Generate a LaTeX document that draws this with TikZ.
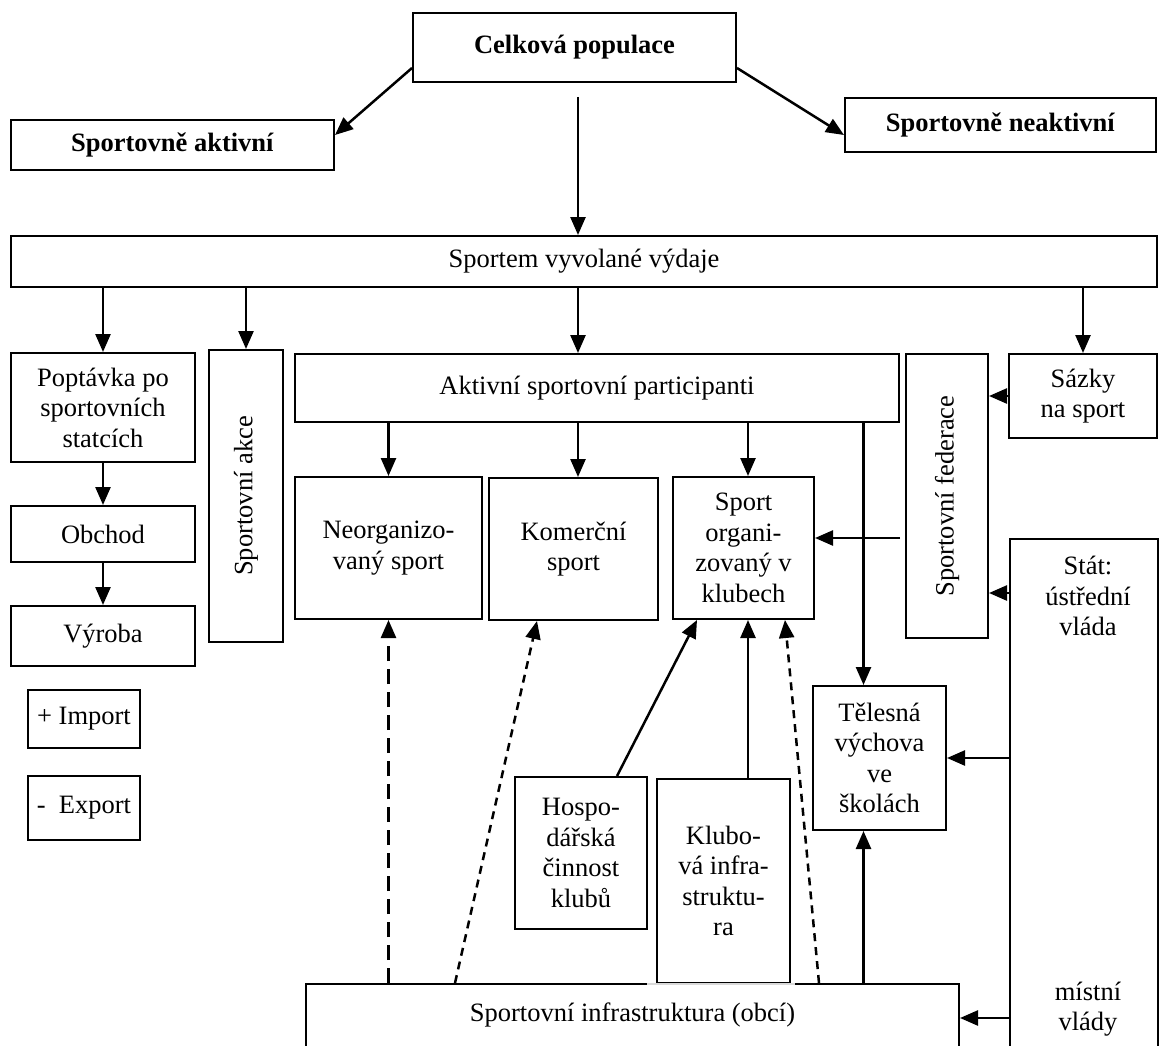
\documentclass[tikz,border=0pt]{standalone}
\usepackage{fontspec}
\setmainfont{Liberation Serif}
\usepackage{tikz}
\usetikzlibrary{arrows.meta}

\begin{document}
\begin{tikzpicture}[x=1pt,y=-1pt,
        every node/.style={font=\fontsize{26.5}{30.5}\selectfont, align=center},
        box/.style={draw, line width=2pt, inner sep=0pt, fill=white},
        arr/.style={line width=2.5pt, -{Triangle[length=18pt,width=15pt]}},
        longdash/.style={arr, dash pattern=on 15pt off 8pt},
        shortdash/.style={arr, dash pattern=on 8pt off 6pt}]
                \useasboundingbox (0,0) rectangle (1160,1046);
                \clip (0,0) rectangle (1160,1046);
                % top
                \node[box, minimum width=323pt, minimum height=69pt] (pop) at (574.5,47.5) {\textbf{Celková populace}};
                \node[box, minimum width=323pt, minimum height=50pt] (akt) at (172.5,145) {\textbf{Sportovně aktivní}};
                \node[box, minimum width=311pt, minimum height=54pt] (neakt) at (1000.5,125) {\textbf{Sportovně neaktivní}};
                \node[box, minimum width=1146pt, minimum height=51pt] (vydaje) at (584,261.5) {Sportem vyvolané výdaje};
                % left column
                \node[box, minimum width=184pt, minimum height=109pt] (poptavka) at (103,407.5) {Poptávka po\\sportovních\\statcích};
                \node[box, minimum width=184pt, minimum height=56pt] (obchod) at (103,534) {Obchod};
                \node[box, minimum width=184pt, minimum height=60pt] (vyroba) at (103,636) {Výroba};
                \node[box, minimum width=112pt, minimum height=58pt] (import) at (84,719) {+ Import};
                \node[box, minimum width=112pt, minimum height=64pt] (export) at (84,808) {-\ \ Export};
                \node[box, minimum width=74pt, minimum height=292pt] (akce) at (246,496) {\rotatebox{90}{Sportovní akce}};
                % participants
                \node[box, minimum width=604pt, minimum height=68pt] (ucast) at (597,388) {Aktivní sportovní participanti};
                \node[box, minimum width=187pt, minimum height=142pt] (neorg) at (388.5,548) {Neorganizo-\\vaný sport};
                \node[box, minimum width=169pt, minimum height=142pt] (komerc) at (573.5,549) {Komerční\\sport};
                \node[box, minimum width=141pt, minimum height=142pt] (klubsport) at (743.5,548) {Sport\\organi-\\zovaný v\\klubech};
                % right side
                \node[box, minimum width=82pt, minimum height=284pt] (federace) at (947,496) {\rotatebox{90}{Sportovní federace}};
                \node[box, minimum width=148pt, minimum height=84pt] (sazky) at (1083,396) {Sázky\\na sport};
                \node[box, minimum width=148pt, minimum height=540pt, anchor=north west] (stat) at (1009,538) {};
                \node (statlbl) at (1088,596) {Stát:\\ústřední\\vláda};
                \node (mistni) at (1088,1009) {místní\\vlády};
                \node[box, minimum width=133pt, minimum height=144pt] (telesna) at (879.5,758) {Tělesná\\výchova\\ve\\školách};
                % bottom
                \node[box, minimum width=653pt, anchor=north west, text height=18pt, text depth=40pt, inner ysep=19pt] (infra) at (305,983) {Sportovní infrastruktura (obcí)};
                \node[box, minimum width=132pt, minimum height=152pt] (hosp) at (581,853) {Hospo-\\dářská\\činnost\\klubů};
                \node[box, line width=1.6pt, minimum width=133pt, minimum height=204pt] (klubinfra) at (723.5,881) {Klubo-\\vá infra-\\struktu-\\ra};
                \draw[gray!30, line width=2pt] ([xshift=-9pt]klubinfra.south west) -- ([xshift=4pt]klubinfra.south east);

                \coordinate (midx) at (578,0);
                \coordinate (kx) at (748,0);
                \coordinate (tx) at (863.5,0);
                \coordinate (popb) at (578,97);
                \coordinate (fedout) at (900,538);
                \coordinate (statfed) at (1009,593);
                \coordinate (statinfra) at (1009,1018);
                \coordinate (kombot) at (455,983);
                \coordinate (klubbot) at (819,983);

                \draw[arr] ([yshift=-20.5pt]pop.west) -- ([yshift=10pt]akt.east);
                \draw[arr] ([yshift=-20.5pt]pop.east) -- ([yshift=-10pt]neakt.west);
                \draw[arr] (popb) -- (vydaje.north -| midx);
                \draw[arr] (vydaje.south -| poptavka.north) -- (poptavka.north);
                \draw[arr] (vydaje.south -| akce.north) -- (akce.north);
                \draw[arr] (vydaje.south -| midx) -- (ucast.north -| midx);
                \draw[arr] (vydaje.south -| sazky.north) -- (sazky.north);
                \draw[arr] (poptavka.south) -- (obchod.north);
                \draw[arr] (obchod.south) -- (vyroba.north);
                \draw[arr] (ucast.south -| neorg.north) -- (neorg.north);
                \draw[arr] (ucast.south -| midx) -- (komerc.north -| midx);
                \draw[arr] (ucast.south -| kx) -- (klubsport.north -| kx);
                \draw[arr] (ucast.south -| tx) -- (telesna.north -| tx);
                \draw[arr] (sazky.west) -- (sazky.west -| federace.east);
                \draw[arr] (fedout) -- (fedout -| klubsport.east);
                \draw[arr] (statfed) -- (statfed -| federace.east);
                \draw[arr] (stat.west |- telesna.east) -- (telesna.east);
                \draw[arr] (statinfra) -- (statinfra -| infra.east);
                \draw[arr] (infra.north -| tx) -- (telesna.south -| tx);
                \draw[longdash] (infra.north -| neorg.south) -- (neorg.south);
                \draw[shortdash] (kombot) -- ([xshift=-36.5pt]komerc.south);
                \draw[shortdash] (klubbot) -- ([xshift=41.5pt]klubsport.south);
                \draw[arr] ([xshift=36pt]hosp.north) -- ([xshift=25pt]klubsport.south west);
                \draw[arr] (klubinfra.north -| kx) -- (klubsport.south -| kx);
            \end{tikzpicture}
\end{document}
